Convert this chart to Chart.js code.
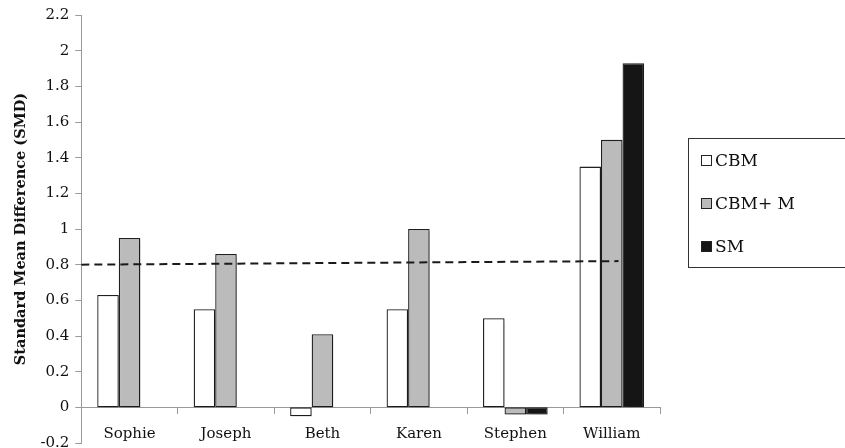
<!DOCTYPE html>
<html>
    <head>
        <meta charset="utf-8">
        <title>SMD by participant</title>
        <script src="https://cdn.jsdelivr.net/npm/chart.js@4.4.1/dist/chart.umd.min.js"></script>
        <style>
            body { margin: 0; background: #fff; }
            #wrap { position: relative; width: 845px; height: 448px; overflow: hidden; }
            #legend {
                position: absolute; left: 688px; top: 138px; width: 170px; height: 130px;
                border: 1px solid #333; box-sizing: border-box;
                font-family: "DejaVu Serif", serif; font-size: 17px; color: #111;
            }
            #legend div { position: absolute; left: 12px; line-height: 20px; }
            #legend span.sw { display: inline-block; width: 9px; height: 9px; border: 1px solid #222; margin-right: 3px; vertical-align: 0px; }
        </style>
    </head>
    <body>
        <div id="wrap">
            <!-- canvas is a bit taller than the frame so the -0.2 label gets clipped like the original -->
            <canvas id="canvas" width="845" height="458"></canvas>
            <div id="legend"></div>
        </div>

<script>
var participants = ['Sophie', 'Joseph', 'Beth', 'Karen', 'Stephen', 'William'];
var cbm     = [0.63, 0.55, -0.05, 0.55, 0.50, 1.35];
var cbmM    = [0.95, 0.86, 0.41, 1.00, -0.04, 1.50];
var sm      = [null, null, null, null, -0.04, 1.93];
var seriesNames  = ['CBM', 'CBM+ M', 'SM'];
var seriesColors = ['#ffffff', '#bbbbbb', '#151515'];
// dashed reference line, x in category units (-0.5 = left edge of first category)
var refX = [-0.5, 5.07];
var refY = [0.80, 0.82];

var serif = '"DejaVu Serif", serif';

var legendEl = document.getElementById('legend');
seriesNames.forEach(function(name, i){
    var d = document.createElement('div');
    d.style.top = (11 + i * 43) + 'px';
    d.innerHTML = '<span class="sw" style="background:' + seriesColors[i] + '"></span>' + name;
    legendEl.appendChild(d);
});

function barSet(label, data, color, i){
    return {
        label: label,
        stack: 's' + i,
        data: data,
        backgroundColor: color,
        borderColor: '#222',
        borderWidth: 1.3,
        borderSkipped: false,
        categoryPercentage: 0.67,
        barPercentage: 1.0
    };
}

// soft drop shadow behind the bars
var barShadow = {
    id: 'barShadow',
    beforeDatasetDraw: function(chart, args){
        var c = chart.ctx;
        c.save();
        c.shadowColor = 'rgba(0,0,0,0.3)';
        c.shadowBlur = 4;
        c.shadowOffsetX = 2;
        c.shadowOffsetY = 2;
    },
    afterDatasetDraw: function(chart){
        chart.ctx.restore();
    }
};

// dashed threshold line, placed through the chart's own scales
var refLine = {
    id: 'refLine',
    afterDatasetsDraw: function(chart){
        var xs = chart.scales.x, ys = chart.scales.y;
        var p0 = xs.getPixelForValue(0), step = xs.getPixelForValue(1) - p0;
        var c = chart.ctx;
        c.save();
        c.strokeStyle = '#1a1a1a';
        c.lineWidth = 2;
        c.setLineDash([8, 5]);
        c.beginPath();
        refX.forEach(function(v, i){
            var px = p0 + v * step, py = ys.getPixelForValue(refY[i]);
            if (i === 0) c.moveTo(px, py); else c.lineTo(px, py);
        });
        c.stroke();
        c.restore();
    }
};

var ctx = document.getElementById('canvas').getContext('2d');
window.myChart = new Chart(ctx, {
    type: 'bar',
    data: {
        labels: participants,
        datasets: [
            barSet(seriesNames[0], cbm, seriesColors[0], 0),
            barSet(seriesNames[1], cbmM, seriesColors[1], 1),
            barSet(seriesNames[2], sm, seriesColors[2], 2)
        ]
    },
    plugins: [barShadow, refLine],
    options: {
        animation: false,
        responsive: false,
        layout: { padding: { left: 9, right: 185, top: 13, bottom: 0 } },
        plugins: { legend: { display: false }, tooltip: { enabled: false } },
        scales: {
            x: {
                position: { y: 0 },
                grid: { drawOnChartArea: false, drawTicks: true, tickLength: 6, color: '#999', offset: true },
                border: { color: '#999' },
                ticks: { color: '#111', font: { family: serif, size: 15 }, padding: 12 }
            },
            y: {
                min: -0.2, max: 2.2,
                grid: { drawOnChartArea: false, tickLength: 6, color: '#999' },
                border: { color: '#999' },
                ticks: {
                    stepSize: 0.2, color: '#111', padding: 6,
                    font: { family: serif, size: 15 },
                    callback: function(v){ return String(Math.round(v * 10) / 10); }
                },
                title: { display: true, text: 'Standard Mean Difference (SMD)', color: '#111', font: { family: serif, size: 14.5, weight: 'bold' } }
            }
        }
    }
});
</script>
    </body>
</html>
